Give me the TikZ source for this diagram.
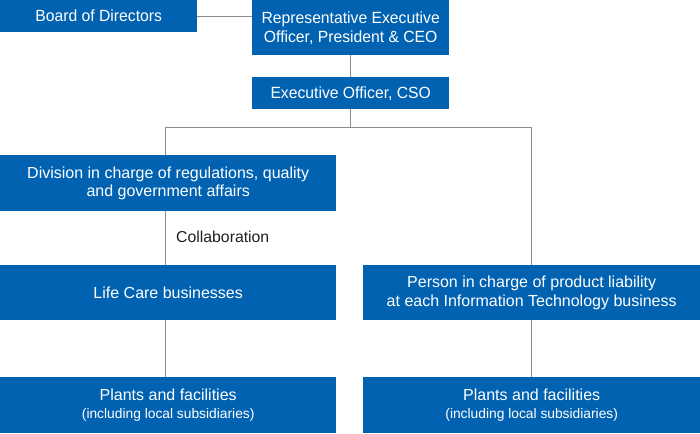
\documentclass[tikz,border=0pt]{standalone}
\usepackage{fontspec}
\setmainfont{Liberation Sans}
\newfontfamily\condfont{Liberation Sans}
\newfontfamily\topfont[FakeStretch=0.97]{Liberation Sans}
\definecolor{boxblue}{RGB}{0,98,177}
\definecolor{linegray}{RGB}{140,140,140}
\definecolor{labeltext}{RGB}{35,30,28}
\begin{document}
\begin{tikzpicture}[x=1pt,y=-1pt,
  box/.style={fill=boxblue, draw=none, text=white, inner sep=0pt, align=center, anchor=north west},
  topbox/.style={box, font=\topfont\fontsize{16.2}{19}\selectfont},
  lowbox/.style={box, font=\condfont\fontsize{16}{18.5}\selectfont},
  conn/.style={draw=linegray, line width=0.9pt}]
\useasboundingbox (0,0) rectangle (700,433);
\node[topbox, minimum width=197pt, minimum height=32pt] (bod) at (0,0) {Board of Directors};
\node[topbox, minimum width=197pt, minimum height=55pt] (rep) at (252,0) {Representative Executive\\Officer, President \& CEO};
\node[topbox, minimum width=197pt, minimum height=32pt] (cso) at (252,77) {Executive Officer, CSO};
\node[lowbox, minimum width=336pt, minimum height=56pt] (div) at (0,155) {Division in charge of regulations, quality\\and government affairs};
\node[lowbox, minimum width=336pt, minimum height=55pt] (life) at (0,265) {Life Care businesses};
\node[lowbox, minimum width=337pt, minimum height=55pt] (pers) at (363,265) {Person in charge of product liability\\at each Information Technology business};
\node[lowbox, minimum width=336pt, minimum height=56pt] (pl1) at (0,377) {Plants and facilities\\[-1pt]{\fontsize{13.8}{16}\selectfont(including local subsidiaries)}};
\node[lowbox, minimum width=337pt, minimum height=56pt] (pl2) at (363,377) {Plants and facilities\\[-1pt]{\fontsize{13.8}{16}\selectfont(including local subsidiaries)}};
\coordinate (j) at (350,127);
\coordinate (jl) at (165,127);
\coordinate (jr) at (531,127);
\draw[conn] (bod.east) -- (bod.east -| rep.west);
\draw[conn] (rep.south -| j) -- (cso.north -| j);
\draw[conn] (cso.south -| j) -- (j);
\draw[conn] (jl) -- (jr);
\draw[conn] (jl) -- (div.north -| jl);
\draw[conn] (jr) -- (pers.north -| jr);
\draw[conn] (div.south -| jl) -- (life.north -| jl);
\draw[conn] (life.south -| jl) -- (pl1.north -| jl);
\draw[conn] (pers.south -| jr) -- (pl2.north -| jr);
\node[anchor=west, inner sep=0pt, text=labeltext, font=\condfont\fontsize{15.8}{18}\selectfont] (collab) at (176,237) {Collaboration};
\end{tikzpicture}
\end{document}
